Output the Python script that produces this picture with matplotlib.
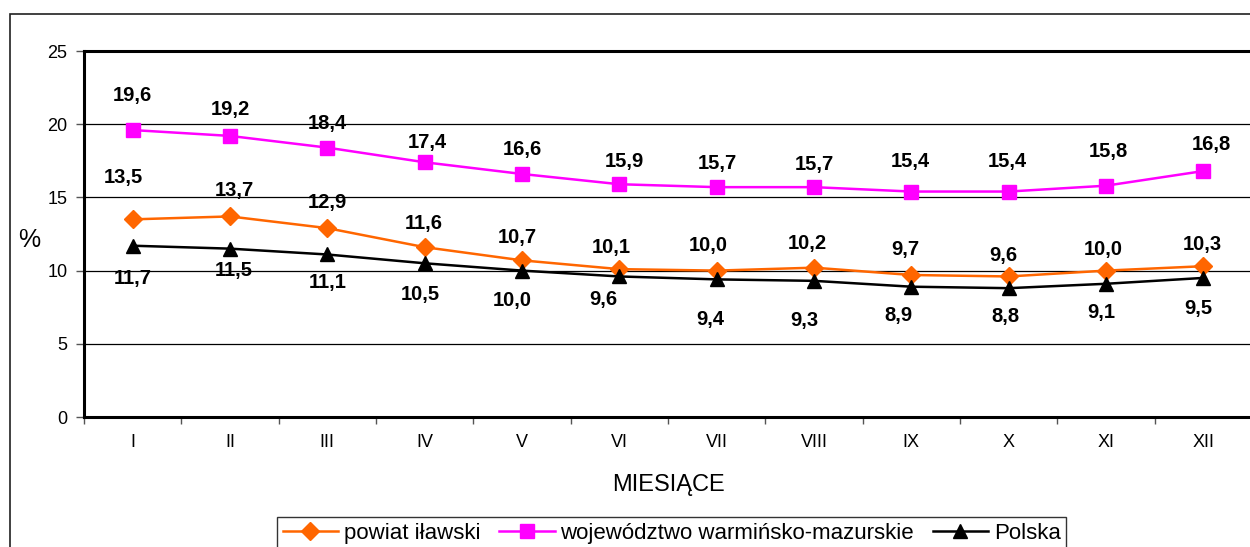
import matplotlib.pyplot as plt
from matplotlib.patches import Rectangle

plt.rcParams['font.family'] = ['Liberation Sans', 'DejaVu Sans']

# Data
months = ['I', 'II', 'III', 'IV', 'V', 'VI', 'VII', 'VIII', 'IX', 'X', 'XI', 'XII']
powiat = [13.5, 13.7, 12.9, 11.6, 10.7, 10.1, 10.0, 10.2, 9.7, 9.6, 10.0, 10.3]
wojewodztwo = [19.6, 19.2, 18.4, 17.4, 16.6, 15.9, 15.7, 15.7, 15.4, 15.4, 15.8, 16.8]
polska = [11.7, 11.5, 11.1, 10.5, 10.0, 9.6, 9.4, 9.3, 8.9, 8.8, 9.1, 9.5]

# label offsets (pixels) - labels were hand placed in the original
pow_dx = [-9, 4, 0, -1, -5, -8, -8, -7, -6, -5, -3, -1]
pow_dy = [42, 26, 26, 24, 23, 22, 25, 24, 25, 21, 21, 22]
woj_dx = [0, 0, 0, 3, 0, 5, 1, 0, -1, -1, 2, 8]
woj_dy = [35, 26, 24, 20, 24, 23, 24, 23, 30, 30, 34, 27]
pol_dx = [0, 4, 0, -4, -10, -16, -6, -10, -13, -3, -5, -5]
pol_dy = [-33, -22, -28, -31, -30, -23, -40, -40, -29, -28, -29, -31]

x = list(range(1, len(months) + 1))

fig = plt.figure(figsize=(12.5, 5.47), dpi=100)
ax = fig.add_axes([84 / 1250, 130 / 547, 1168 / 1250, 366 / 547])

# outer chart border (runs off the right and bottom edge)
fig.patches.append(Rectangle((10 / 1250, -0.2), 1.2, 0.2 + 533 / 547,
                             transform=fig.transFigure, fill=False,
                             edgecolor='#202020', linewidth=1.2, clip_on=False))

series = [
    (powiat, '#FF6600', 'D', 9, 'powiat iławski', pow_dx, pow_dy),
    (wojewodztwo, '#FF00FF', 's', 10, 'województwo warmińsko-mazurskie', woj_dx, woj_dy),
    (polska, 'black', '^', 10, 'Polska', pol_dx, pol_dy),
]
for vals, col, mk, ms, lab, dxs, dys in series:
    ax.plot(x, vals, color=col, marker=mk, markersize=ms, linewidth=1.8,
            label=lab, zorder=3, clip_on=False)
    for xi, v, dx, dy in zip(x, vals, dxs, dys):
        ax.annotate(f"{v:.1f}".replace('.', ','), (xi, v), xytext=(dx, dy),
                    textcoords='offset pixels', ha='center', va='center',
                    fontsize=14.5, fontweight='bold', zorder=4)

ax.set_xlim(0.5, 12.5)
ax.set_ylim(0, 25)
ax.set_yticks([0, 5, 10, 15, 20, 25])
ax.yaxis.grid(True, color='black', linewidth=0.9)
ax.set_axisbelow(True)

ax.set_xticks(x)
ax.set_xticklabels(months)
ax.set_xticks([i + 0.5 for i in range(0, 13)], minor=True)
ax.tick_params(axis='x', which='major', length=0, pad=12, labelsize=13)
ax.tick_params(axis='x', which='minor', length=5, width=1, color='#555555')
ax.tick_params(axis='y', length=6, width=1, pad=6, labelsize=13, color='#555555')

for s in ['left', 'bottom', 'top']:
    ax.spines[s].set_linewidth(2.2)
ax.spines['right'].set_visible(False)

fig.text(669 / 1250, 1 - 485 / 547, 'MIESIĄCE', ha='center', va='center', fontsize=17)
fig.text(29 / 1250, 1 - 240 / 547, '%', ha='center', va='center', fontsize=18)

leg = fig.legend(loc='upper left', bbox_to_anchor=(277 / 1250, 1 - 517 / 547),
                 ncol=3, fontsize=16, frameon=True, fancybox=False,
                 edgecolor='black', borderaxespad=0, borderpad=0.25,
                 handlelength=2.5, handletextpad=0.25, columnspacing=0.85)
leg.get_frame().set_linewidth(1.0)

fig.savefig('out.png', dpi=100)
